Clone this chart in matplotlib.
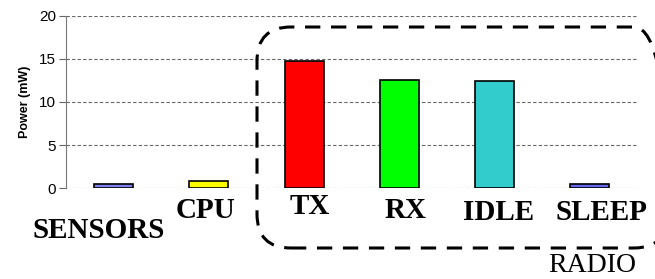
import matplotlib.pyplot as plt
from matplotlib.patches import FancyBboxPatch
from matplotlib.transforms import IdentityTransform

# -------------------
# Data
# -------------------
composants = ["SENSORS", "CPU", "TX", "RX", "IDLE", "SLEEP"]
puissance_mw = [0.5, 0.85, 14.8, 12.5, 12.4, 0.45]
couleurs = ["#8080f0", "#ffff00", "#ff0000", "#00ff00", "#33cccc", "#6666ee"]
yticks = [0, 5, 10, 15, 20]

# label placement (x offset in bar units, y in axes fraction)
label_dx = [-0.16, -0.03, 0.06, 0.06, 0.04, 0.12]
label_y = [-0.245, -0.13, -0.11, -0.13, -0.14, -0.14]

fig = plt.figure(figsize=(6.55, 2.79), dpi=100)
ax = fig.add_axes([0.1008, 0.326, 0.8725, 0.617])

x = range(len(composants))
ax.bar(x, puissance_mw, width=0.41, color=couleurs, edgecolor="black",
       linewidth=1.2, zorder=3)

ax.set_xlim(-0.5, 5.5)
ax.set_ylim(0, 20)
ax.set_yticks(yticks)
ax.set_xticks([])
ax.yaxis.grid(True, color="#666666", linestyle=(0, (3, 2)), linewidth=0.8)
ax.tick_params(axis="y", length=5, color="#666666", labelsize=11, pad=2)
for lab in ax.get_yticklabels():
    lab.set_family("Liberation Sans")
for s in ["top", "right", "bottom"]:
    ax.spines[s].set_visible(False)
ax.spines["left"].set_color("#777777")
ax.set_ylabel("Power (mW)", fontsize=9, fontweight="bold", labelpad=6,
              family="Liberation Sans")

for i, nom in enumerate(composants):
    ax.text(i + label_dx[i], label_y[i], nom, transform=ax.get_xaxis_transform(),
            ha="center", va="center", fontsize=21, fontweight="bold",
            family="Liberation Serif")

# rounded dashed box around radio states
boite = FancyBboxPatch((257, 31), 411, 221, boxstyle="round,pad=0,rounding_size=34",
                       transform=IdentityTransform(), fill=False, edgecolor="black",
                       linewidth=2.2, linestyle=(0, (5, 3.5)), clip_on=False)
fig.add_artist(boite)
fig.text(592 / 655, 1 - 265 / 279, "RADIO", ha="center", va="center",
         fontsize=20, family="Liberation Serif")

plt.savefig("out.png", dpi=100)
